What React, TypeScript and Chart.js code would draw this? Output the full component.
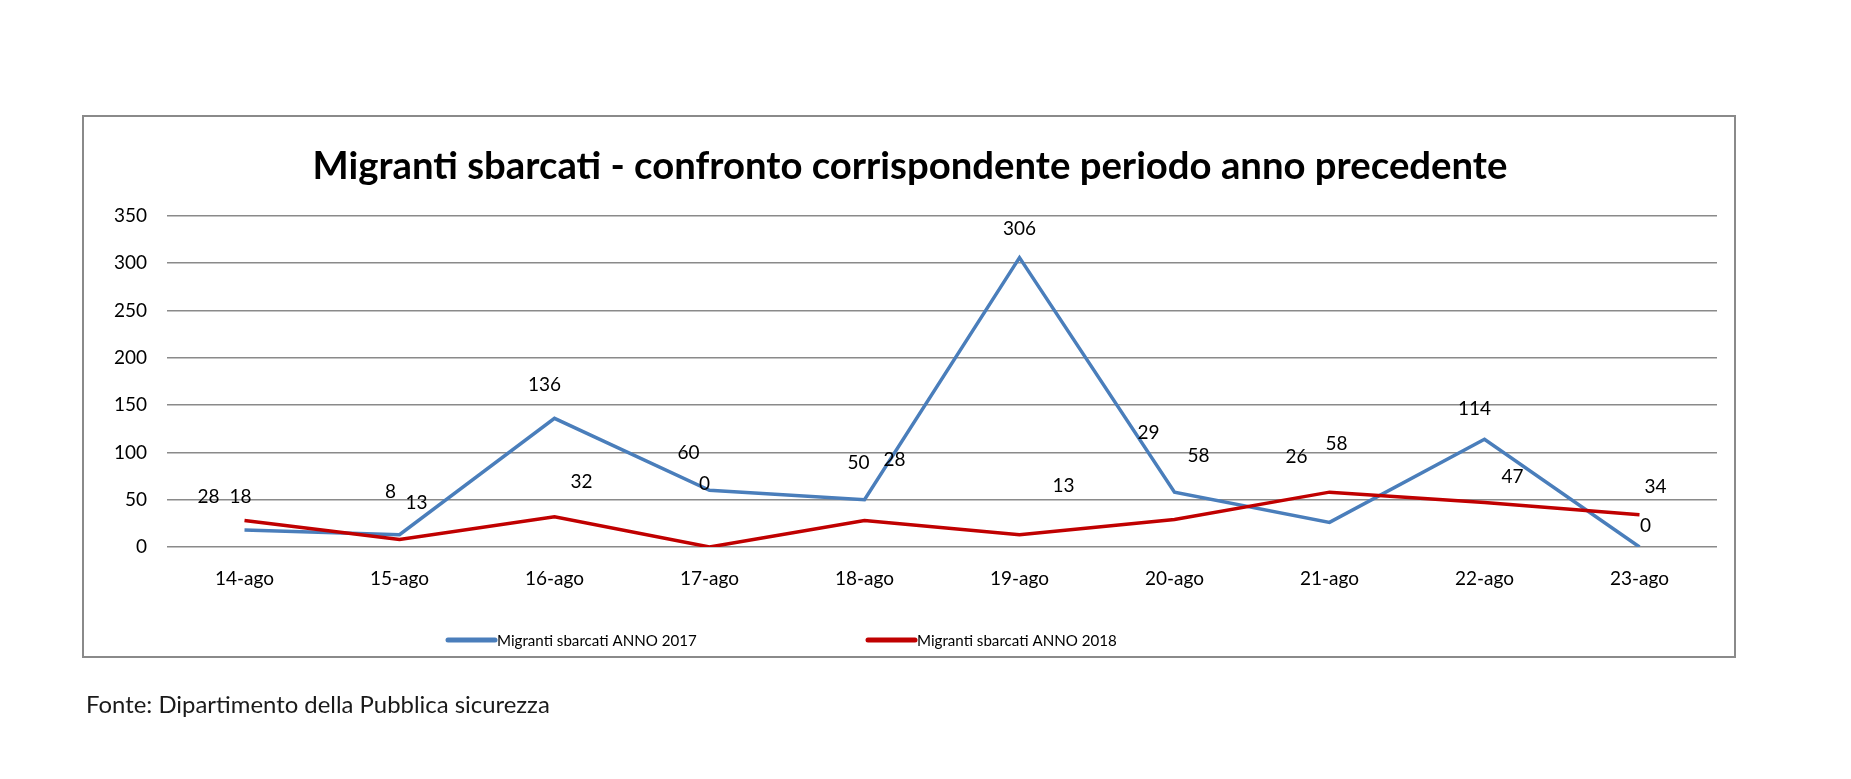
import React, { useEffect, useRef } from "react";
import { Chart, registerables } from "chart.js";

Chart.register(...registerables);

// ---- data ----
const categories = ["14-ago", "15-ago", "16-ago", "17-ago", "18-ago", "19-ago", "20-ago", "21-ago", "22-ago", "23-ago"];
const sbarcati2017 = [18, 13, 136, 60, 50, 306, 58, 26, 114, 0];
const sbarcati2018 = [28, 8, 32, 0, 28, 13, 29, 58, 47, 34];
const label2017 = "Migranti sbarcati ANNO 2017";
const label2018 = "Migranti sbarcati ANNO 2018";
const yMin = 0;
const yMax = 350;
const yStep = 50;
const titleText = "Migranti sbarcati - confronto corrispondente periodo anno precedente";
const sourceText = "Fonte: Dipartimento della Pubblica sicurezza";

// data-label placement (pixel offsets from each point, as placed in the original)
const labelOffsets2017: [number, number][] = [
  [-4, -33], [17, -32], [-10, -34], [-21, -37], [-6, -37], [0, -29], [24, -36], [-33, -66], [-10, -30], [6, -21],
];
const labelOffsets2018: [number, number][] = [
  [-36, -24], [-9, -48], [27, -35], [-5, -63], [30, -61], [44, -49], [-26, -87], [7, -48], [28, -26], [16, -28],
];

const FONT = "Lato, 'Open Sans', sans-serif";
const BLUE = "#4A7EBB";
const RED = "#C00000";
const W = 1851;
const H = 779;

function fitFont(ctx: CanvasRenderingContext2D, text: string, weight: string, target: number, base: number) {
  ctx.font = `${weight} ${base}px ${FONT}`;
  const w = ctx.measureText(text).width;
  const size = (base * target) / w;
  ctx.font = `${weight} ${size}px ${FONT}`;
}

const decorPlugin = {
  id: "decor",
  beforeDraw(chart: any) {
    const ctx: CanvasRenderingContext2D = chart.ctx;
    ctx.save();
    ctx.fillStyle = "#ffffff";
    ctx.fillRect(0, 0, chart.width, chart.height);
    // frame
    ctx.strokeStyle = "#8a8a8a";
    ctx.lineWidth = 2;
    ctx.strokeRect(83, 116, 1652, 541);
    // title
    fitFont(ctx, titleText, "bold", 1195, 34);
    ctx.fillStyle = "#000";
    ctx.textAlign = "center";
    ctx.textBaseline = "alphabetic";
    ctx.fillText(titleText, 910, 179);
    // source
    fitFont(ctx, sourceText, "normal", 464, 24);
    ctx.fillStyle = "#1a1a1a";
    ctx.textAlign = "left";
    ctx.fillText(sourceText, 86, 713);
    ctx.restore();
  },
  afterDatasetsDraw(chart: any) {
    const ctx: CanvasRenderingContext2D = chart.ctx;
    ctx.save();
    // data labels
    ctx.font = `normal 19px ${FONT}`;
    ctx.fillStyle = "#000";
    ctx.textAlign = "center";
    ctx.textBaseline = "middle";
    chart.data.datasets.forEach((ds: any, di: number) => {
      const meta = chart.getDatasetMeta(di);
      const offs: [number, number][] = ds.labelOffsets || [];
      meta.data.forEach((pt: any, i: number) => {
        const o = offs[i] || [0, -20];
        ctx.fillText(String(ds.data[i]), pt.x + o[0], pt.y + o[1]);
      });
    });
    // legend
    const legendX = [448, 868];
    const legendY = 640;
    chart.data.datasets.forEach((ds: any, di: number) => {
      const x = legendX[di];
      ctx.strokeStyle = ds.borderColor;
      ctx.lineWidth = 5;
      ctx.lineCap = "round";
      ctx.beginPath();
      ctx.moveTo(x, legendY);
      ctx.lineTo(x + 47, legendY);
      ctx.stroke();
      fitFont(ctx, ds.label, "normal", 200, 14);
      ctx.fillStyle = "#000";
      ctx.textAlign = "left";
      ctx.textBaseline = "middle";
      ctx.fillText(ds.label, x + 49, legendY + 1);
    });
    ctx.restore();
  },
};

export default function App() {
  const canvasRef = useRef<HTMLCanvasElement | null>(null);

  useEffect(() => {
    const canvas = canvasRef.current;
    if (!canvas) return;
    const tickFont = { family: FONT, size: 19 };
    const chart = new Chart(canvas, {
      type: "line",
      data: {
        labels: categories,
        datasets: [
          {
            label: label2017,
            data: sbarcati2017,
            borderColor: BLUE,
            backgroundColor: BLUE,
            borderWidth: 3.5,
            pointRadius: 0,
            tension: 0,
            fill: false,
            order: 1,
            labelOffsets: labelOffsets2017,
          } as any,
          {
            label: label2018,
            data: sbarcati2018,
            borderColor: RED,
            backgroundColor: RED,
            borderWidth: 3.5,
            pointRadius: 0,
            tension: 0,
            fill: false,
            order: 0,
            labelOffsets: labelOffsets2018,
          } as any,
        ],
      },
      options: {
        animation: false,
        responsive: false,
        devicePixelRatio: 1,
        layout: { padding: { left: 107, top: 216, right: 134, bottom: 172 } },
        plugins: {
          legend: { display: false },
          title: { display: false },
          tooltip: { enabled: false },
        },
        scales: {
          x: {
            offset: true,
            grid: { display: false, drawTicks: false },
            border: { display: false },
            ticks: { padding: 20, font: tickFont, color: "#000", maxRotation: 0, autoSkip: false },
            afterFit: (s: any) => {
              s.height = 60;
            },
          },
          y: {
            min: yMin,
            max: yMax,
            ticks: { stepSize: yStep, padding: 20, font: tickFont, color: "#000" },
            grid: { color: "#8a8a8a", lineWidth: 1.6, drawTicks: false },
            border: { display: false },
            afterFit: (s: any) => {
              s.width = 60;
            },
          },
        },
      },
      plugins: [decorPlugin],
    });
    return () => chart.destroy();
  }, []);

  return (
    <div style={{ position: "fixed", left: 0, top: 0, width: W, height: H, background: "#fff", overflow: "hidden" }}>
      <canvas ref={canvasRef} width={W} height={H} style={{ display: "block", width: W, height: H }} />
    </div>
  );
}
